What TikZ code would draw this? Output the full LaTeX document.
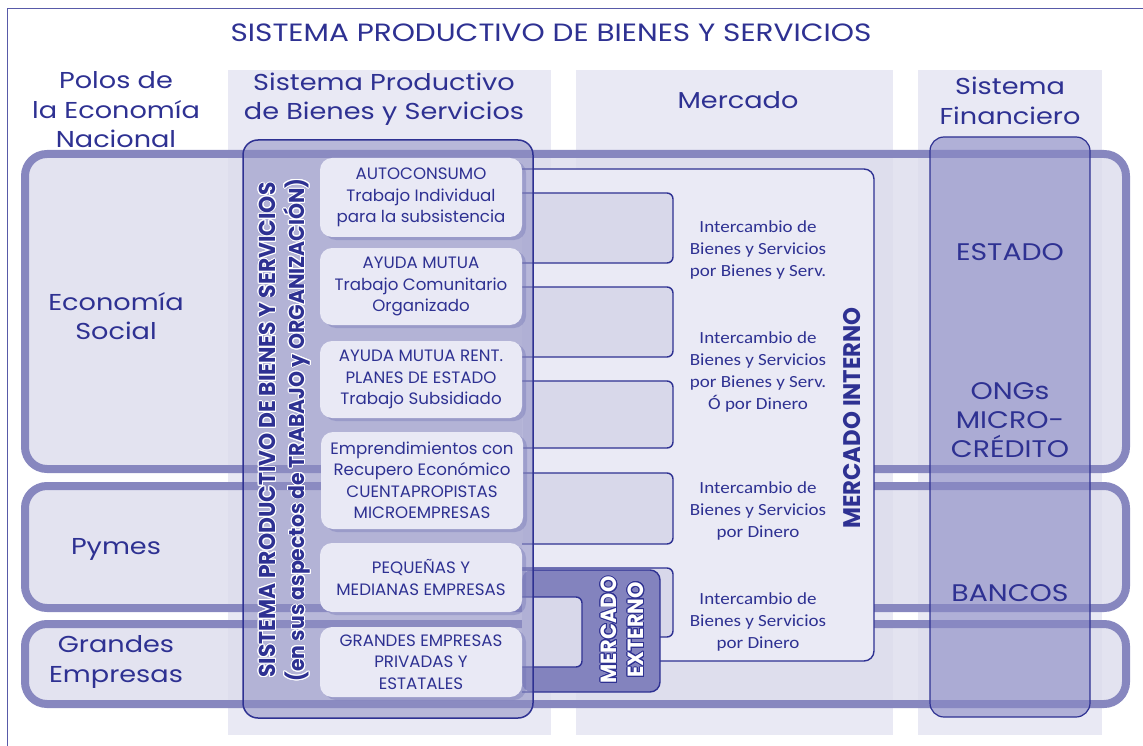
\documentclass[tikz,border=0pt]{standalone}
\usepackage{fontspec}
\setmainfont{Poppins}[FakeStretch=1.18]
\newfontfamily\narrowfont[FakeStretch=1.12]{Carlito}
\newfontfamily\unitfont[FakeStretch=1.01]{Poppins}
\newfontfamily\condfont[FakeStretch=0.95]{Poppins}
\usepackage{contour}
\contourlength{0.9pt}
\usetikzlibrary{shadows}

\definecolor{ink}{HTML}{2E3192}
\definecolor{panelfill}{HTML}{E9E9F4}
\definecolor{bandline}{HTML}{8787BF}
\definecolor{bandfill}{HTML}{DCDCEC}
\definecolor{prodfill}{HTML}{9090C4}
\definecolor{unitfill}{HTML}{E9E9F5}
\definecolor{mifill}{HTML}{EAEAF5}
\definecolor{linkfill}{HTML}{D8D8EA}
\definecolor{extfill}{HTML}{8383BE}
\definecolor{finfill}{HTML}{8A8AC4}

\pgfdeclarelayer{back}
\pgfdeclarelayer{mid}
\pgfdeclarelayer{front}
\pgfsetlayers{back,mid,main,front}

\tikzset{
  panel/.style={fill=panelfill},
  band/.style={draw=bandline, line width=8pt, fill=bandfill, fill opacity=0.8, rounded corners=22pt},
  prodbox/.style={draw=ink, line width=1.5pt, fill=prodfill, fill opacity=0.55, rounded corners=15pt},
  unit/.style={fill=unitfill, rounded corners=12pt, align=center, inner sep=0pt, minimum width=202pt,
    font=\unitfont\fontsize{16.5}{21.5}\selectfont,
    drop shadow={shadow xshift=4pt, shadow yshift=-3pt, fill=ink!70, opacity=0.35}},
  linkbox/.style={draw=ink, line width=1.4pt, fill=linkfill, rounded corners=6pt},
  finbox/.style={draw=ink, line width=1.2pt, fill=finfill, fill opacity=0.6, rounded corners=14pt},
  colhead/.style={align=center, font=\fontsize{23}{29.5}\selectfont},
  fintext/.style={align=center, font=\fontsize{24}{29}\selectfont},
  swap/.style={align=center, font=\narrowfont\fontsize{17}{22}\selectfont},
  vlabel/.style={rotate=90, align=center, font=\condfont\bfseries\fontsize{23}{29}\selectfont}
}

\begin{document}
\begin{tikzpicture}[x=1pt, y=-1pt, every node/.style={text=ink}]
  \useasboundingbox (0,0) rectangle (1143,746);
  % Units of the productive system:
  \node[unit, minimum height=79pt] (p1) at (421,197.5) {AUTOCONSUMO\\Trabajo Individual\\para la subsistencia};
  \node[unit, minimum height=77pt] (p2) at (421,286.5) {AYUDA MUTUA\\Trabajo Comunitario\\Organizado};
  \node[unit, minimum height=77pt] (p3) at (421,379.5) {AYUDA MUTUA RENT.\\PLANES DE ESTADO\\Trabajo Subsidiado};
  \node[unit, minimum height=97pt] (p4) at (422,480.5) {Emprendimientos con\\Recupero Económico\\CUENTAPROPISTAS\\MICROEMPRESAS};
  \node[unit, minimum height=69pt] (p5) at (421,577.5) {PEQUEÑAS Y\\MEDIANAS EMPRESAS};
  \node[unit, minimum height=70pt] (p6) at (421,662) {GRANDES EMPRESAS\\PRIVADAS Y\\ESTATALES};

  \begin{pgfonlayer}{back}
    % frame, columns and rows
    \draw[ink!80, line width=1pt] (7,760) -- (7,9) -- (1160,9);
    \fill[panel] (228,70) rectangle (551,735);
    \fill[panel] (576,70) rectangle (893,735);
    \fill[panel] (918,70) rectangle (1102,735);
    \draw[band] (25,154) rectangle (1126,469);
    \draw[band] (25,486) rectangle (1126,608);
    \draw[band] (25,624) rectangle (1126,704);
    % mercado interno
    \fill[mifill, rounded corners=10pt] (522,169) rectangle (874,661);
    \draw[ink, line width=1.4pt, rounded corners=10pt] (522,169) -- (874,169) -- (874,661) -- (533,661);
    \foreach \a/\b/\t/\u in {p1/p2/193/263, p2/p3/287/357, p3/p4/381/448, p4/p5/473/544, p5/p6/568/637}
      \draw[linkbox] (\a.east |- 0,\t) -| (673,\u) -- (\b.east |- 0,\u);
    % mercado externo
    \fill[extfill, rounded corners=10pt] (522,570) rectangle (660,692);
    \draw[ink, line width=1.4pt, rounded corners=10pt] (522,570) -- (660,570) -- (660,692) -- (522,692);
    \draw[linkbox] (p5.east |- 0,597) -| (582,667) -- (p6.east |- 0,667);
  \end{pgfonlayer}

  \begin{pgfonlayer}{mid}
    \draw[prodbox] (243,140) rectangle (533,718);
  \end{pgfonlayer}

  % Headings and labels:
  \node[font=\fontsize{25}{28}\selectfont] (title) at (551,33) {SISTEMA PRODUCTIVO DE BIENES Y SERVICIOS};
  \node[colhead] (polos) at (116,110) {Polos de\\la Economía\\Nacional};
  \node[colhead] (sp) at (384,99) {Sistema Productivo\\de Bienes y Servicios};
  \node[colhead] (merc) at (738,100) {Mercado};
  \node[colhead] (sf) at (1010,101) {Sistema\\Financiero};
  \node[colhead] (ecsoc) at (116,316) {Economía\\Social};
  \node[colhead] (pymes) at (116,549) {Pymes};
  \node[colhead] (grandes) at (116,662) {Grandes\\Empresas};

  \node[vlabel] (sprod) at (285,430) {\contour{white}{SISTEMA PRODUCTIVO DE BIENES Y SERVICIOS}\\\fontsize{21.5}{29}\selectfont\contour{white}{(en sus aspectos de TRABAJO y ORGANIZACIÓN)}};
  \node[vlabel, font=\condfont\bfseries\fontsize{24}{29}\selectfont] (mint) at (852,418) {MERCADO INTERNO};
  \node[vlabel, text=white, font=\condfont\bfseries\fontsize{22}{27}\selectfont] (mext) at (623,630) {\contour{ink}{MERCADO}\\\contour{ink}{EXTERNO}};

  \node[swap] (s1) at (758,250) {Intercambio de\\Bienes y Servicios\\por Bienes y Serv.};
  \node[swap] (s2) at (758,372) {Intercambio de\\Bienes y Servicios\\por Bienes y Serv.\\Ó por Dinero};
  \node[swap] (s3) at (758,511) {Intercambio de\\Bienes y Servicios\\por Dinero};
  \node[swap] (s4) at (758,622) {Intercambio de\\Bienes y Servicios\\por Dinero};

  \begin{pgfonlayer}{front}
    \draw[finbox] (930,137) rectangle (1090,717);
    \node[fintext] (estado) at (1010,252) {ESTADO};
    \node[fintext] (ongs) at (1010,420) {ONGs\\MICRO-\\CRÉDITO};
    \node[fintext] (bancos) at (1010,593) {BANCOS};
  \end{pgfonlayer}
\end{tikzpicture}
\end{document}
